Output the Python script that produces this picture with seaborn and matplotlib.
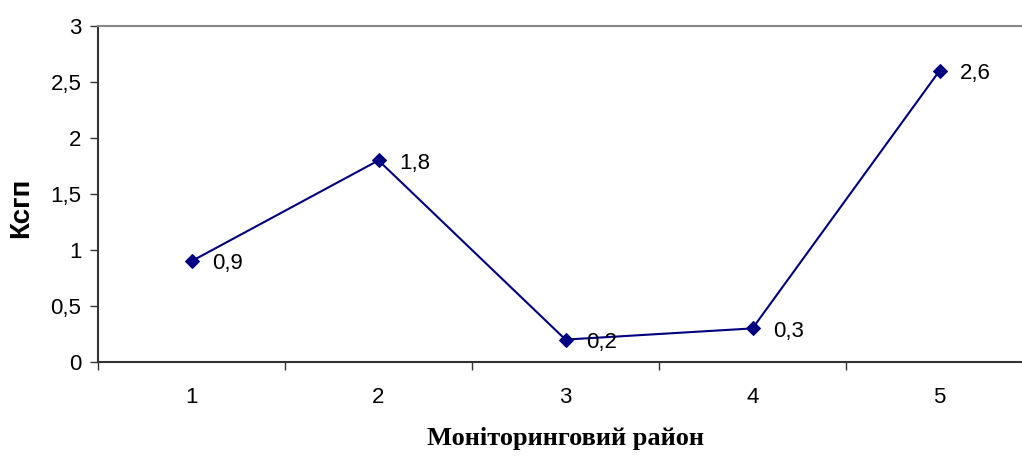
import matplotlib
matplotlib.use("Agg")
import matplotlib.pyplot as plt
import seaborn as sns
import pandas as pd

categories = ["1", "2", "3", "4", "5"]
values = [0.9, 1.8, 0.2, 0.3, 2.6]
value_labels = ["0,9", "1,8", "0,2", "0,3", "2,6"]
y_ticks = [0, 0.5, 1, 1.5, 2, 2.5, 3]
y_tick_labels = ["0", "0,5", "1", "1,5", "2", "2,5", "3"]
x_title = "Моніторинговий район"
y_title = "Ксгп"

sns.set_theme(style="white")
plt.rcParams['font.family'] = ['Liberation Sans', 'DejaVu Sans']

fig = plt.figure(figsize=(10.22, 4.57), dpi=100)
ax = fig.add_axes([98/1022, 95/457, 935/1022, 336/457])

df = pd.DataFrame({"pos": range(1, len(categories) + 1), "val": values})
sns.lineplot(data=df, x="pos", y="val", ax=ax, color="#000080", marker="D",
             markersize=7, markeredgecolor="#000080", linewidth=1.5)

for x, y, lab in zip(df["pos"], values, value_labels):
    ax.annotate(lab, (x, y), xytext=(15, -2), textcoords="offset points",
                ha="left", va="center", fontsize=16, color="black")

ax.set_xlim(0.5, len(categories) + 0.5)
ax.set_ylim(0, 3)
ax.set_yticks(y_ticks)
ax.set_yticklabels(y_tick_labels, fontsize=16, color="black")
ax.set_xticks(range(1, len(categories) + 1))
ax.set_xticklabels(categories, fontsize=16, color="black")
ax.set_xticks([i + 0.5 for i in range(len(categories) + 1)], minor=True)
ax.tick_params(axis="x", which="major", length=0, pad=18)
ax.tick_params(axis="x", which="minor", length=6, width=1, color="#333333", direction="out", bottom=True)
ax.tick_params(axis="y", length=6, width=1, color="#333333", direction="out", pad=6, left=True)

for s in ["left", "bottom"]:
    ax.spines[s].set_color("#333333")
    ax.spines[s].set_linewidth(1.5)
ax.spines["top"].set_color("#888888")
ax.spines["top"].set_linewidth(1.5)
ax.spines["right"].set_visible(False)

ax.set_xlabel(x_title, fontsize=19, fontweight="bold", color="black",
              family=["Liberation Serif", "DejaVu Serif"], labelpad=14)
ax.set_ylabel("")
fig.text(21/1022, 1 - 208/457, y_title, fontsize=20, fontweight="bold", color="black",
         rotation=90, ha="center", va="center")

fig.savefig("out.png", dpi=100)
